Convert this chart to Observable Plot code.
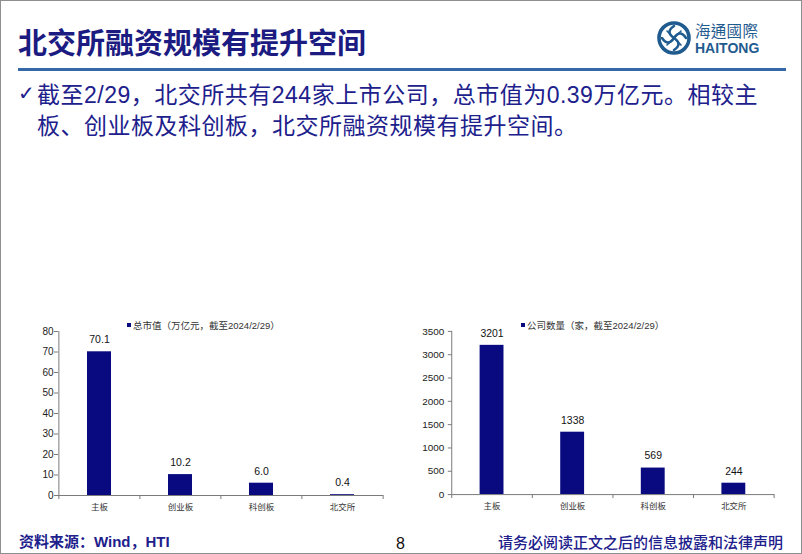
<!DOCTYPE html>
<html>
<head>
<meta charset="utf-8">
<script src="https://cdn.jsdelivr.net/npm/d3@7"></script>
<script src="https://cdn.jsdelivr.net/npm/@observablehq/plot@0.6"></script>
<style>
  html, body { margin: 0; padding: 0; background: #fff; }
  #page { position: relative; width: 802px; height: 554px; overflow: hidden; box-sizing: border-box; border: 1px solid #8f8f8f; background: #fff; }
  .abs { position: absolute; white-space: nowrap; }
  .cjk { font-family: "Liberation Sans", Arial, "Noto Sans CJK SC", sans-serif; }
  #title { left: 17px; top: 24px; font-size: 29px; line-height: 32px; font-weight: 700; color: #1b1b82; font-family: "Noto Sans CJK SC", sans-serif; }
  #rule { left: 17px; top: 67px; width: 768px; height: 3px; background: #3568a8; }
  #bullet { left: 17px; top: 79px; font-size: 23px; line-height: 31px; color: #20208c; letter-spacing: 0.5px; }
  #check { left: 17px; top: 80px; font-size: 20px; color: #20208c; font-family: "DejaVu Sans", sans-serif; }
  .legend { font-size: 9.5px; color: #333; line-height: 12px; font-family: "Liberation Sans", Arial, "Noto Sans CJK SC", sans-serif; }
  .legend i { display: inline-block; width: 4px; height: 4px; background: #0a0a80; margin-right: 2px; vertical-align: 2px; }
  #src { left: 18px; top: 531px; font-size: 15px; line-height: 20px; font-weight: 700; color: #20208c; }
  #pg { left: 395px; top: 533px; font-size: 16px; line-height: 20px; color: #111; font-family: "Liberation Sans", Arial, sans-serif; }
  #disc { left: 497px; top: 531px; font-size: 15px; line-height: 20px; color: #20208c; font-family: "Noto Sans CJK SC", sans-serif; font-weight: 500; }
  #logoCn { left: 694px; top: 21px; font-size: 15.5px; line-height: 16px; letter-spacing: 0.3px; color: #1f5b8f; font-family: "Noto Sans CJK TC", "Noto Sans CJK SC", sans-serif; }
  #logoEn { left: 694px; top: 40px; font-size: 14px; line-height: 14px; color: #1f5b8f; font-weight: 700; font-family: "Liberation Sans", Arial, sans-serif; }
</style>
</head>
<body>
<div id="page">
  <div id="title" class="abs">北交所融资规模有提升空间</div>
  <div id="rule" class="abs"></div>
  <svg class="abs" style="left:655px;top:19px" width="36" height="36" viewBox="0 0 36 36">
    <circle cx="18" cy="18" r="15" fill="none" stroke="#1f5b8f" stroke-width="3.6"/>
    <g fill="none" stroke="#1f5b8f" stroke-width="2.6" stroke-linecap="round">
      <path d="M18 6 C 12 10, 12 14, 18 18 C 24 22, 24 26, 18 30"/>
      <path d="M6 18 C 10 24, 14 24, 18 18 C 22 12, 26 12, 30 18"/>
      <path d="M11 11 L25 25 M25 11 L11 25" stroke-width="1.6"/>
    </g>
  </svg>
  <div id="logoCn" class="abs">海通國際</div>
  <div id="logoEn" class="abs">HAITONG</div>
  <div id="check" class="abs">✓</div>
  <div id="bullet" class="abs cjk" style="left:36px">截至2/29，北交所共有244家上市公司，总市值为0.39万亿元。相较主<br>板、创业板及科创板，北交所融资规模有提升空间。</div>
  <div id="chartA" class="abs" style="left:0px;top:310px"></div>
  <div id="chartB" class="abs" style="left:400px;top:310px"></div>
  <div class="abs legend" style="left:126px;top:319px"><i></i>总市值（万亿元，截至2024/2/29）</div>
  <div class="abs legend" style="left:520px;top:319px"><i></i>公司数量（家，截至2024/2/29）</div>
  <div id="src" class="abs cjk">资料来源：Wind，HTI</div>
  <div id="pg" class="abs">8</div>
  <div id="disc" class="abs">请务必阅读正文之后的信息披露和法律声明</div>
</div>
<script>
const categories = ["主板", "创业板", "科创板", "北交所"];
const marketCap = [70.1, 10.2, 6.0, 0.4];
const marketCapLabels = ["70.1", "10.2", "6.0", "0.4"];
const companyCount = [3201, 1338, 569, 244];
const companyCountLabels = ["3201", "1338", "569", "244"];
const marketCapTicks = [0, 10, 20, 30, 40, 50, 60, 70, 80];
const companyCountTicks = [0, 500, 1000, 1500, 2000, 2500, 3000, 3500];

const NAVY = "#0a0a80";
const AXIS = "#7a7a7a";

function barChart({values, labels, ticks, ymax, width, marginLeft, marginRight, tickPadding}) {
  const height = 210, marginTop = 20, marginBottom = 26;
  const data = categories.map((c, i) => ({cat: c, v: values[i], label: labels[i]}));
  const step = (width - marginLeft - marginRight) / categories.length;
  const tickUnits = 4 / (height - marginTop - marginBottom) * ymax;
  return Plot.plot({
    width, height, marginLeft, marginRight, marginTop, marginBottom,
    style: {background: "transparent", overflow: "visible", fontFamily: "Liberation Sans, Arial, sans-serif", fontSize: "10px", color: "#222"},
    x: {domain: categories, paddingInner: 0.7, paddingOuter: 0.35},
    y: {domain: [0, ymax]},
    marks: [
      Plot.barY(data, {x: "cat", y: "v", fill: NAVY}),
      Plot.ruleY([0], {stroke: AXIS}),
      Plot.ruleX([categories[0]], {dx: -step / 2, y1: 0, y2: ymax, stroke: AXIS}),
      Plot.ruleX(categories, {dx: -step / 2, y1: 0, y2: -tickUnits, stroke: AXIS}),
      Plot.ruleX([categories[categories.length - 1]], {dx: step / 2, y1: 0, y2: -tickUnits, stroke: AXIS}),
      Plot.axisY({ticks, tickSize: 4, tickPadding, tickFormat: (d) => String(d), stroke: AXIS, fill: "#222", fontSize: 10, label: null}),
      Plot.axisX({tickSize: 0, tickPadding: 8, fill: "#333", fontSize: 8.5, fontFamily: "Noto Sans CJK SC, sans-serif", label: null}),
      Plot.text(data, {x: "cat", y: "v", text: "label", dy: -12, fontSize: 10.5, fill: "#111"})
    ]
  });
}

document.getElementById("chartA").append(barChart({
  values: marketCap, labels: marketCapLabels, ticks: marketCapTicks, ymax: 80,
  width: 400, marginLeft: 57, marginRight: 18, tickPadding: 1
}));
document.getElementById("chartB").append(barChart({
  values: companyCount, labels: companyCountLabels, ticks: companyCountTicks, ymax: 3500,
  width: 402, marginLeft: 51, marginRight: 27, tickPadding: 4
}));
</script>
</body>
</html>
